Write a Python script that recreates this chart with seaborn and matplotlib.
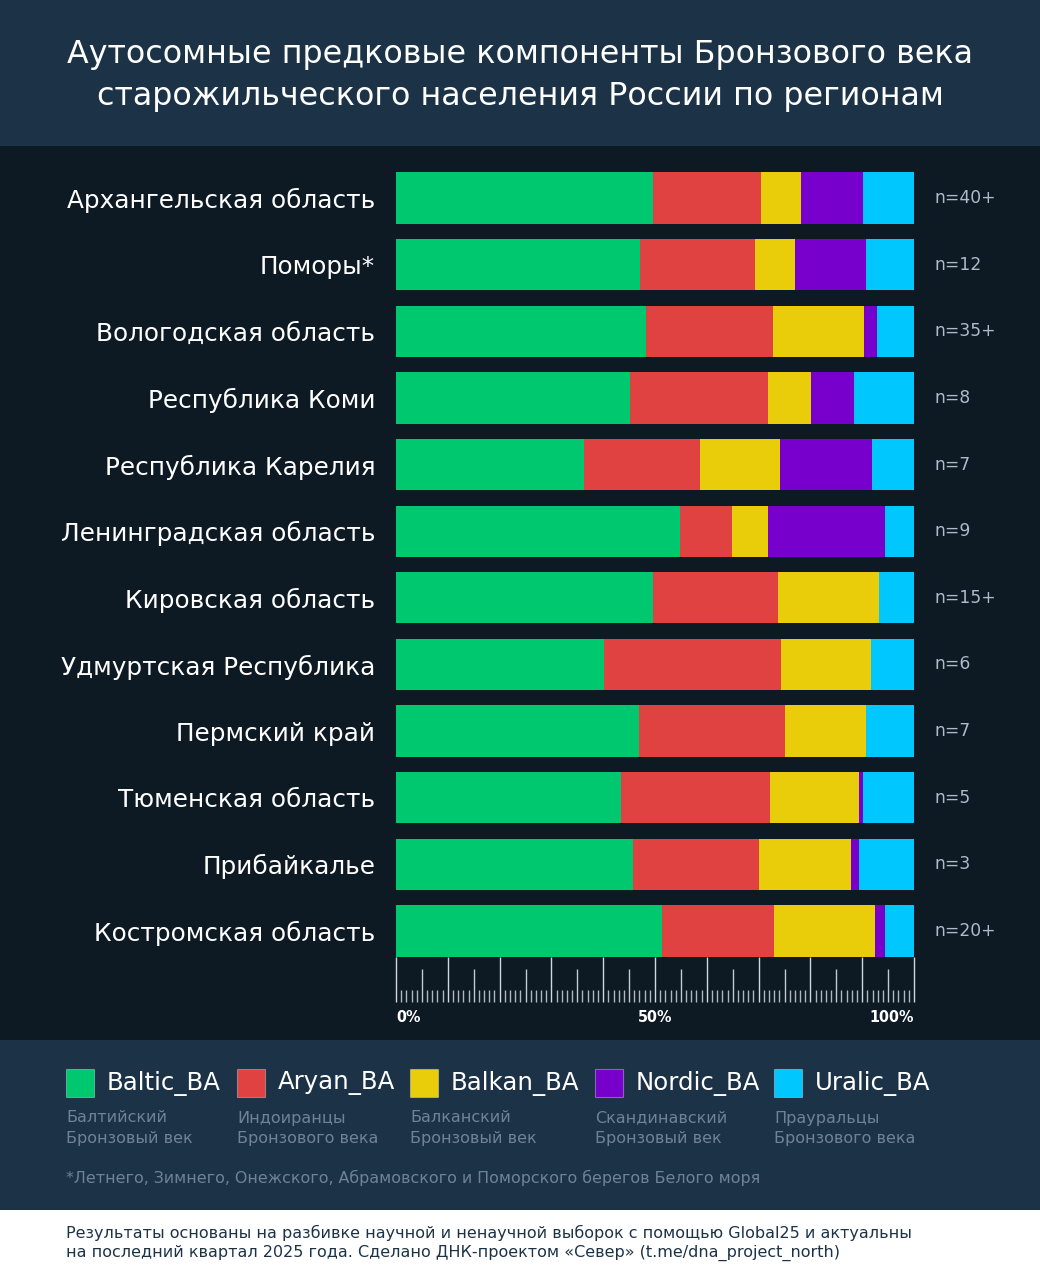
import matplotlib
matplotlib.use("Agg")
import matplotlib.pyplot as plt
import seaborn as sns
import pandas as pd
from matplotlib.patches import Rectangle

# ---------------- data ----------------
regions = [
    "Архангельская область", "Поморы*", "Вологодская область", "Республика Коми",
    "Республика Карелия", "Ленинградская область", "Кировская область",
    "Удмуртская Республика", "Пермский край", "Тюменская область",
    "Прибайкалье", "Костромская область",
]
sample_sizes = ["n=40+", "n=12", "n=35+", "n=8", "n=7", "n=9", "n=15+",
                "n=6", "n=7", "n=5", "n=3", "n=20+"]
components = ["Baltic_BA", "Aryan_BA", "Balkan_BA", "Nordic_BA", "Uralic_BA"]
component_desc = [
    "Балтийский\nБронзовый век", "Индоиранцы\nБронзового века",
    "Балканский\nБронзовый век", "Скандинавский\nБронзовый век",
    "Прауральцы\nБронзового века",
]
baltic = [49.7, 47.1, 48.2, 45.2, 36.3, 54.9, 49.7, 40.2, 46.9, 43.4, 45.7, 51.3]
aryan = [20.7, 22.2, 24.6, 26.7, 22.3, 9.9, 24.0, 34.2, 28.2, 28.8, 24.3, 21.7]
balkan = [7.7, 7.8, 17.6, 8.2, 15.6, 7.1, 19.6, 17.3, 15.6, 17.1, 17.9, 19.4]
nordic = [12.1, 13.6, 2.5, 8.4, 17.6, 22.5, 0.0, 0.0, 0.0, 0.9, 1.4, 2.0]
uralic = [9.8, 9.3, 7.1, 11.5, 8.2, 5.6, 6.7, 8.3, 9.3, 9.8, 10.7, 5.6]
axis_labels = ["0%", "50%", "100%"]

title_lines = ["Аутосомные предковые компоненты Бронзового века",
               "старожильческого населения России по регионам"]
footnote = "*Летнего, Зимнего, Онежского, Абрамовского и Поморского берегов Белого моря"
footer = ["Результаты основаны на разбивке научной и ненаучной выборок с помощью Global25 и актуальны",
          "на последний квартал 2025 года. Сделано ДНК-проектом «Север» (t.me/dna_project_north)"]

# ---------------- style ----------------
colors = ["#00c86e", "#e04242", "#e9cd0b", "#7700cc", "#00c8ff"]
PANEL = "#0d1923"
BAND = "#1c3347"
SUB = "#6f8397"

sns.set_theme(style="dark")
plt.rcParams['font.family'] = ['DejaVu Sans']

W, H = 1040, 1280
fig = plt.figure(figsize=(W / 100, H / 100), dpi=100, facecolor=PANEL)


def fx(px):
    return px / W


def fy(px):
    return 1 - px / H


def band(top, bottom, color):
    fig.add_artist(Rectangle((0, fy(bottom)), 1, (bottom - top) / H,
                             transform=fig.transFigure, facecolor=color,
                             edgecolor="none", zorder=0))


band(0, 146, BAND)
band(1040, 1210, BAND)
band(1210, 1280, "white")

# title
for i, line in enumerate(title_lines):
    fig.text(0.5, fy(55 + i * 42), line, ha="center", va="center",
             color="white", fontsize=22.9)

# ---------------- main stacked bars ----------------
df = pd.DataFrame({"region": regions, "Baltic_BA": baltic, "Aryan_BA": aryan,
                   "Balkan_BA": balkan, "Nordic_BA": nordic, "Uralic_BA": uralic})
cum = df[components].cumsum(axis=1)
cum["region"] = df["region"]

spacing = (931 - 198) / 11
top_px = 198 - spacing / 2
bot_px = 931 + spacing / 2
ax = fig.add_axes([fx(396), fy(bot_px), (914 - 396) / W, (bot_px - top_px) / H])
ax.set_facecolor("none")

for comp, col in reversed(list(zip(components, colors))):
    sns.barplot(data=cum, x=comp, y="region", color=col, orient="h",
                width=0.77, saturation=1, linewidth=0, errorbar=None, ax=ax)

ax.set_xlim(0, 100)
ax.set_ylim(len(regions) - 0.5, -0.5)
ax.set_xlabel("")
ax.set_ylabel("")
ax.set_xticks([])
ax.grid(False)
for s in ax.spines.values():
    s.set_visible(False)
ax.tick_params(axis="y", length=0, pad=15, labelsize=17.8, labelcolor="white")

trans = ax.get_yaxis_transform()
for i, n in enumerate(sample_sizes):
    ax.text(1.0405, i, n, transform=trans, ha="left", va="center",
            color="#aebbc8", fontsize=12.3)

# ---------------- ruler ----------------
rax = fig.add_axes([fx(396), fy(1002), (914 - 396) / W, (1002 - 957) / H])
rax.set_facecolor("none")
rax.set_xlim(0, 100)
rax.set_ylim(0, 1)
for v in range(0, 101):
    if v % 10 == 0:
        h, c = 1.0, "#d0d7de"
    elif v % 5 == 0:
        h, c = 0.74, "#c2cad3"
    else:
        h, c = 0.27, "#aeb8c3"
    rax.vlines(v, 0, h, color=c, lw=1.0, clip_on=False)
for s in rax.spines.values():
    s.set_visible(False)
rax.set_yticks([])
rax.set_xticks([0, 50, 100])
rax.set_xticklabels(axis_labels)
rax.tick_params(axis="x", length=0, pad=6, labelsize=11.5, labelcolor="white")
tl = rax.get_xticklabels()
tl[0].set_ha("left")
tl[2].set_ha("right")
for t in tl:
    t.set_fontweight("bold")
    t.set_fontstretch("condensed")
rax.grid(False)

# ---------------- legend ----------------
sq_x = [66, 237, 410, 595, 774]
for x0, comp, col, desc in zip(sq_x, components, colors, component_desc):
    fig.add_artist(Rectangle((fx(x0), fy(1097)), 28 / W, 28 / H,
                             transform=fig.transFigure, facecolor=col,
                             edgecolor="#ffffff55", lw=0.8, zorder=2))
    fig.text(fx(x0 + 41), fy(1083), comp, ha="left", va="center",
             color="white", fontsize=17.6)
    for j, ln in enumerate(desc.split("\n")):
        fig.text(fx(x0), fy(1118 + j * 21), ln, ha="left", va="center",
                 color=SUB, fontsize=11.5)

fig.text(fx(66), fy(1178), footnote, ha="left", va="center", color=SUB,
         fontsize=11.4)

for j, ln in enumerate(footer):
    fig.text(fx(66), fy(1233 + j * 20), ln, ha="left", va="center",
             color="#1c3347", fontsize=11.5)

fig.savefig("out.png", dpi=100, facecolor=PANEL)
